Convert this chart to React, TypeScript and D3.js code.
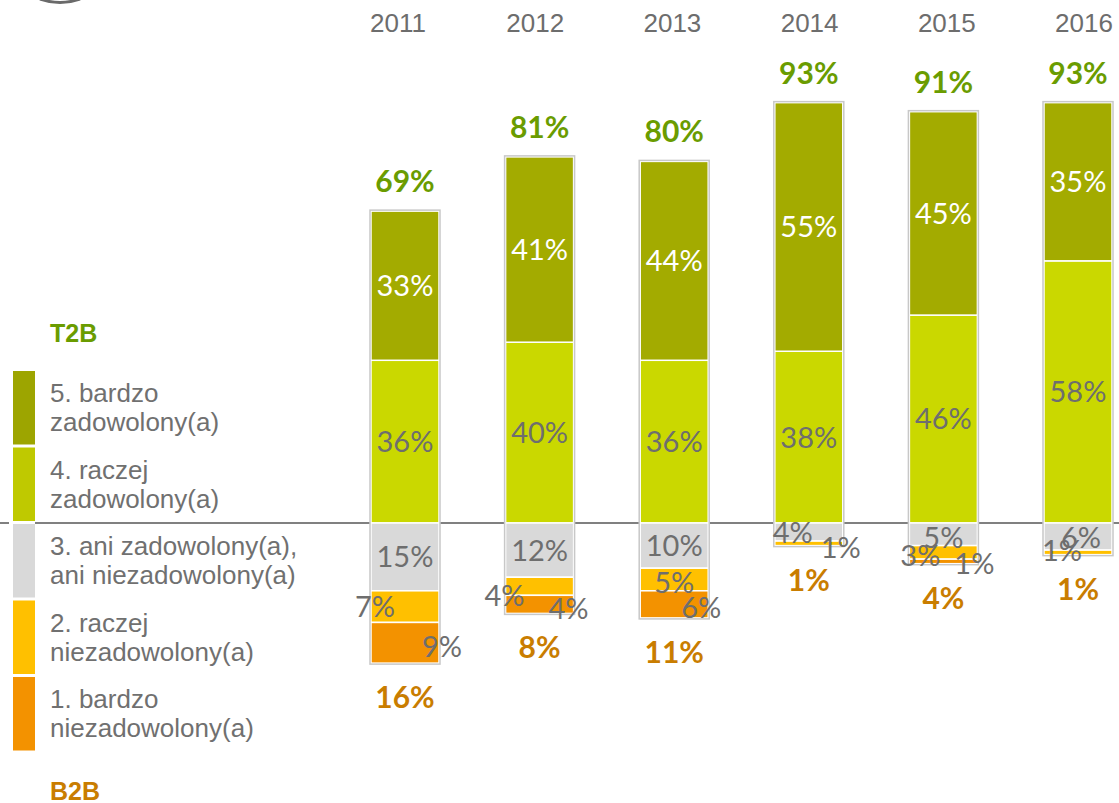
import React from 'react';
import * as d3 from 'd3';

const years = ['2011', '2012', '2013', '2014', '2015', '2016'];
const lvl5 = [33, 41, 44, 55, 45, 35];
const lvl4 = [36, 40, 36, 38, 46, 58];
const lvl3 = [15, 12, 10, 4, 5, 6];
const lvl2 = [7, 4, 5, 1, 3, 1];
const lvl1 = [9, 4, 6, 0, 1, 0];
const t2b = [69, 81, 80, 93, 91, 93];
const b2b = [16, 8, 11, 1, 4, 1];

const legendItems = [
  { key: 5, lines: ['5. bardzo', 'zadowolony(a)'] },
  { key: 4, lines: ['4. raczej', 'zadowolony(a)'] },
  { key: 3, lines: ['3. ani zadowolony(a),', 'ani niezadowolony(a)'] },
  { key: 2, lines: ['2. raczej', 'niezadowolony(a)'] },
  { key: 1, lines: ['1. bardzo', 'niezadowolony(a)'] },
];

const colors: Record<number, string> = {
  5: '#a3ab00',
  4: '#cad800',
  3: '#d9d9d9',
  2: '#ffc000',
  1: '#f39200',
};
const legendColors: Record<number, string> = {
  5: '#9da500',
  4: '#bfc900',
  3: '#d9d9d9',
  2: '#ffc000',
  1: '#f39200',
};

// label placement nudges (styling), keyed year-level
const nudge: Record<string, [number, number]> = {
  '2011-2': [-30, 0],
  '2011-1': [37, 4],
  '2012-2': [-35, 9],
  '2012-1': [29, 4],
  '2013-2': [0, 3],
  '2013-1': [27, 3],
  '2014-3': [-16, 1],
  '2014-2': [32, 4],
  '2015-3': [0, 3],
  '2015-2': [-23, 3],
  '2015-1': [31, 2],
  '2016-3': [3, 1],
  '2016-2': [-16, -2],
};

const W = 1119;
const H = 803;
const BAR_W = 68;
const LABEL_FONT = 'Lato, "Open Sans", sans-serif';
const TEXT_FONT = '"Liberation Sans", Arial, sans-serif';

export default function App() {
  const y = d3.scaleLinear().domain([0, 100]).range([523, 71]);
  const x = d3.scalePoint<string>().domain(years).range([405, 1078]);
  const xYear = d3.scalePoint<string>().domain(years).range([398, 1084]);

  const bars = years.map((yr, i) => {
    const segs: { level: number; v: number; y0: number; y1: number }[] = [];
    segs.push({ level: 4, v: lvl4[i], y0: 0, y1: lvl4[i] });
    segs.push({ level: 5, v: lvl5[i], y0: lvl4[i], y1: lvl4[i] + lvl5[i] });
    let acc = 0;
    const down = [
      { level: 3, v: lvl3[i] },
      { level: 2, v: lvl2[i] },
      { level: 1, v: lvl1[i] },
    ];
    down.forEach((d) => {
      segs.push({ level: d.level, v: d.v, y0: -acc, y1: -(acc + d.v) });
      acc += d.v;
    });
    return { yr, i, segs, top: lvl4[i] + lvl5[i], bottom: -acc };
  });

  const segFont = 29;

  return (
    <svg
      width={W}
      height={H}
      style={{ position: 'absolute', left: 0, top: 0, background: '#fff' }}
    >
      {/* top-left decorative arc */}
      <path d="M40,-1 Q60,6 80,-1" fill="none" stroke="#6a6a6a" strokeWidth={3} />

      {/* baseline */}
      <line x1={0} x2={9} y1={y(0)} y2={y(0)} stroke="#808080" strokeWidth={2} />
      <line x1={35} x2={W} y1={y(0)} y2={y(0)} stroke="#808080" strokeWidth={2} />

      {/* year labels */}
      {years.map((yr) => (
        <text
          key={yr}
          x={xYear(yr)}
          y={32}
          textAnchor="middle"
          fontFamily={TEXT_FONT}
          fontSize={26}
          fill="#6d6d6d"
        >
          {yr}
        </text>
      ))}

      {/* bars */}
      {bars.map((b) => {
        const cx = x(b.yr) as number;
        const x0 = cx - BAR_W / 2;
        return (
          <g key={b.yr}>
            {b.segs
              .filter((s) => s.v > 0)
              .map((s) => {
                const yA = y(Math.max(s.y0, s.y1));
                const yB = y(Math.min(s.y0, s.y1));
                return (
                  <rect
                    key={s.level}
                    x={x0}
                    y={yA}
                    width={BAR_W}
                    height={yB - yA}
                    fill={colors[s.level]}
                    stroke="#ffffff"
                    strokeWidth={1.5}
                  />
                );
              })}
            <rect
              x={x0 - 1}
              y={y(b.top) - 1}
              width={BAR_W + 2}
              height={y(b.bottom) - y(b.top) + 2}
              fill="none"
              stroke="#c8c8c8"
              strokeWidth={1.5}
            />
          </g>
        );
      })}

      {/* segment labels */}
      {bars.map((b) => {
        const cx = x(b.yr) as number;
        return b.segs
          .filter((s) => s.v > 0)
          .map((s) => {
            const n = nudge[`${b.yr}-${s.level}`] || [0, 0];
            const cy = (y(s.y0) + y(s.y1)) / 2;
            return (
              <text
                key={`${b.yr}-${s.level}`}
                x={cx + n[0]}
                y={cy + n[1] + segFont * 0.36}
                textAnchor="middle"
                fontFamily={LABEL_FONT}
                fontSize={segFont}
                fill={s.level === 5 ? '#ffffff' : '#6e6e6e'}
              >
                {`${s.v}%`}
              </text>
            );
          });
      })}

      {/* T2B totals */}
      {bars.map((b) => (
        <text
          key={`t-${b.yr}`}
          x={x(b.yr)}
          y={y(t2b[b.i]) - 19}
          textAnchor="middle"
          fontFamily={LABEL_FONT}
          fontWeight="bold"
          fontSize={30}
          fill="#6a9c00"
        >
          {`${t2b[b.i]}%`}
        </text>
      ))}

      {/* B2B totals, placed under the bar's bottom */}
      {bars.map((b) => (
        <text
          key={`b-${b.yr}`}
          x={x(b.yr)}
          y={y(b.bottom) + 45}
          textAnchor="middle"
          fontFamily={LABEL_FONT}
          fontWeight="bold"
          fontSize={30}
          fill="#c97d00"
        >
          {`${b2b[b.i]}%`}
        </text>
      ))}

      {/* legend */}
      <text x={50} y={342} fontFamily={TEXT_FONT} fontWeight="bold" fontSize={25} fill="#6a9c00">
        T2B
      </text>
      {legendItems.map((it, k) => {
        const top = 371 + k * 76.5;
        return (
          <g key={it.key}>
            <rect x={13} y={top} width={22} height={73.5} fill={legendColors[it.key]} />
            {it.lines.map((ln, j) => (
              <text
                key={j}
                x={50}
                y={top + 31 + j * 29}
                fontFamily={TEXT_FONT}
                fontSize={26}
                fill="#707070"
              >
                {ln}
              </text>
            ))}
          </g>
        );
      })}
      <text x={50} y={800} fontFamily={TEXT_FONT} fontWeight="bold" fontSize={25} fill="#c97d00">
        B2B
      </text>
    </svg>
  );
}
